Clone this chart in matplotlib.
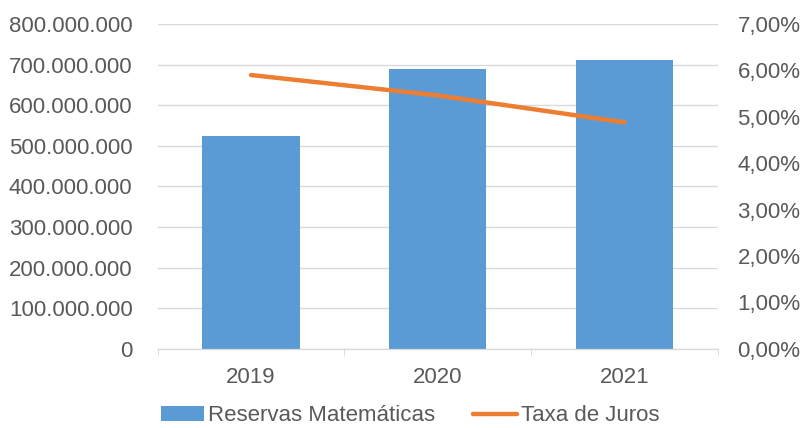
import numpy as np
import matplotlib.pyplot as plt
from matplotlib.ticker import FuncFormatter

years = ["2019", "2020", "2021"]
reservas = [524_000_000, 690_000_000, 712_000_000]
juros = [5.90, 5.46, 4.88]

plt.rcParams['font.family'] = ['Liberation Sans', 'DejaVu Sans']

fig = plt.figure(figsize=(8.04, 4.28), dpi=100)
ax = fig.add_axes([0.196, 0.185, 0.697, 0.759])
ax2 = ax.twinx()

x = np.arange(len(years))
bars = ax.bar(x, reservas, width=0.52, color='#5b9bd5', zorder=2,
              label='Reservas Matemáticas')
line, = ax2.plot(x, juros, color='#ed7d31', linewidth=3.2, zorder=3,
                 label='Taxa de Juros', solid_capstyle='round')

ax.set_xlim(-0.5, 2.5)
ax.set_ylim(0, 800_000_000)
ax.set_yticks(np.arange(0, 800_000_001, 100_000_000))
ax.yaxis.set_major_formatter(FuncFormatter(lambda v, p: f"{int(v):,}".replace(",", ".")))
ax2.set_ylim(0, 7)
ax2.set_yticks(np.arange(0, 7.01, 1))
ax2.yaxis.set_major_formatter(FuncFormatter(lambda v, p: f"{v:.2f}%".replace(".", ",")))

ax.grid(axis='y', color='#d9d9d9', linewidth=1, zorder=0)
ax.set_axisbelow(True)
ax.set_xticks(x)
ax.set_xticklabels(years)
ax.set_xticks([-0.5, 0.5, 1.5, 2.5], minor=True)
ax.tick_params(axis='x', which='major', length=0, pad=13)
ax.tick_params(axis='x', which='minor', length=5, color='#d9d9d9')

for a in (ax, ax2):
    for s in ('top', 'left', 'right'):
        a.spines[s].set_visible(False)
    a.spines['bottom'].set_color('#d9d9d9')
    a.tick_params(axis='y', length=0, labelsize=16, labelcolor='#595959')
    a.tick_params(axis='x', labelsize=16, labelcolor='#595959')
ax.tick_params(axis='y', pad=18)
ax2.tick_params(axis='y', pad=14)

fig.legend(handles=[bars, line], loc='lower center', ncol=2, frameon=False,
           fontsize=16, labelcolor='#595959', bbox_to_anchor=(0.51, -0.027),
           borderpad=0.1, handlelength=1.95, handleheight=0.65,
           columnspacing=1.7, handletextpad=0.2)

plt.savefig('out.png', dpi=100)
